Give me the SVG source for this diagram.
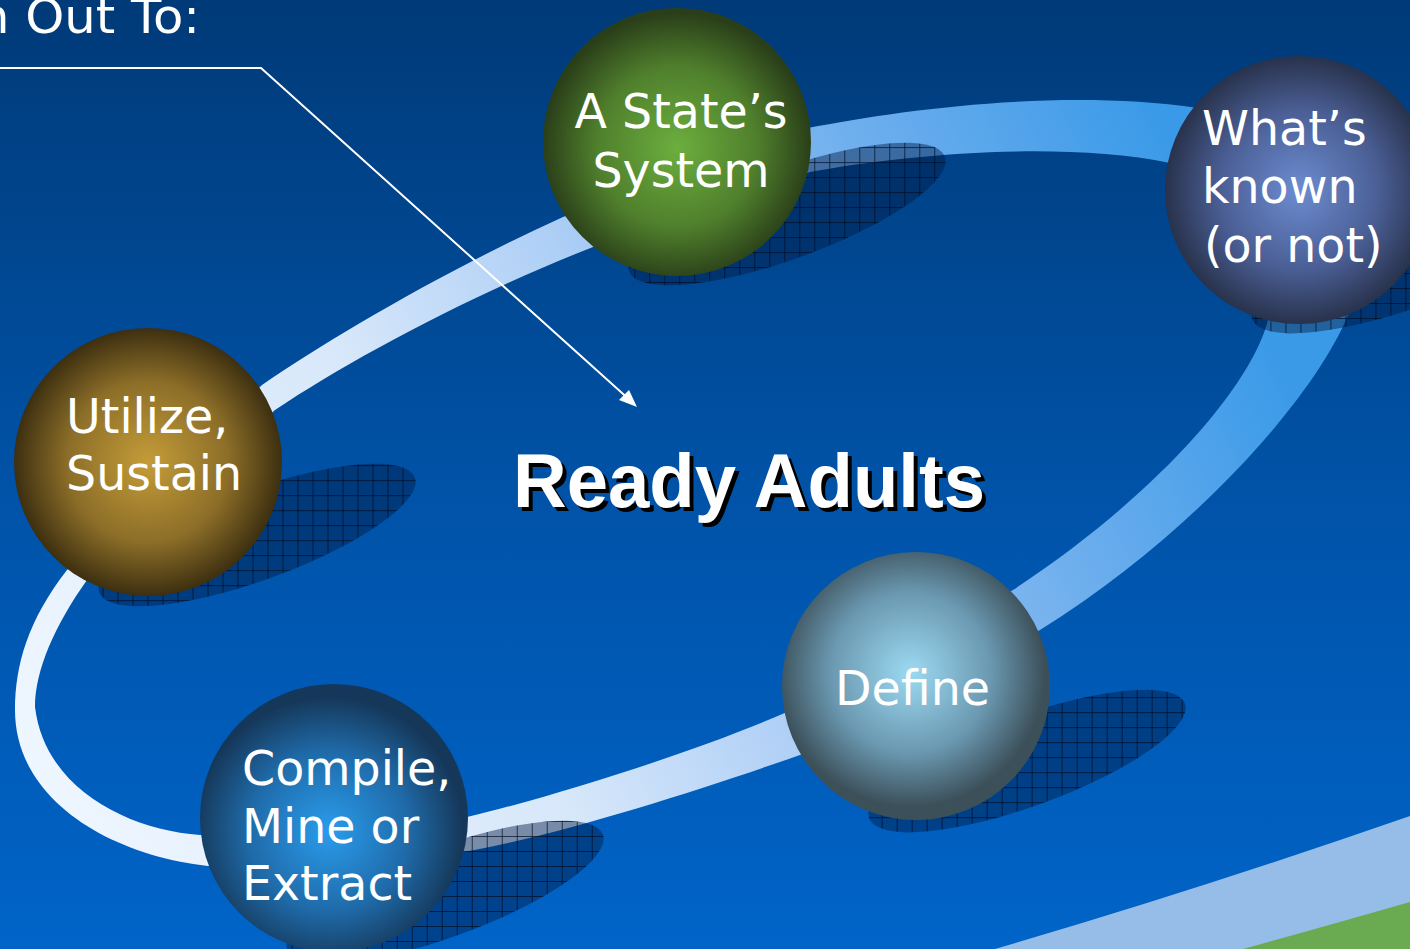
<svg xmlns="http://www.w3.org/2000/svg" width="1410" height="949" viewBox="0 0 1410 949">
<defs>
<linearGradient id="bg" x1="0" y1="0" x2="0" y2="949" gradientUnits="userSpaceOnUse">
<stop offset="0" stop-color="#003a78"/>
<stop offset="0.5" stop-color="#0052a6"/>
<stop offset="1" stop-color="#0064c8"/>
</linearGradient>
<linearGradient id="ringGrad" x1="-280" y1="140" x2="880" y2="-440" gradientUnits="userSpaceOnUse">
<stop offset="0" stop-color="#eef6ff"/>
<stop offset="0.35" stop-color="#d8e8fa"/>
<stop offset="0.53" stop-color="#b0d0f6"/>
<stop offset="0.77" stop-color="#72b0ee"/>
<stop offset="1" stop-color="#3a9ae8"/>
</linearGradient>
<radialGradient id="gGreen" cx="0.5" cy="0.52" r="0.5"><stop offset="0" stop-color="#6cae3e"/><stop offset="0.6" stop-color="#4f7f2c"/><stop offset="1" stop-color="#2a3f19"/></radialGradient>
<radialGradient id="gNavy" cx="0.5" cy="0.5" r="0.5"><stop offset="0" stop-color="#6c8cd0"/><stop offset="0.6" stop-color="#4a5e94"/><stop offset="1" stop-color="#28324c"/></radialGradient>
<radialGradient id="gGold" cx="0.5" cy="0.5" r="0.5"><stop offset="0" stop-color="#c49c38"/><stop offset="0.6" stop-color="#8c6e28"/><stop offset="1" stop-color="#3d2f10"/></radialGradient>
<radialGradient id="gBlue" cx="0.48" cy="0.55" r="0.5"><stop offset="0" stop-color="#2a9cec"/><stop offset="0.6" stop-color="#1f6aa8"/><stop offset="1" stop-color="#15385a"/></radialGradient>
<radialGradient id="gTeal" cx="0.48" cy="0.45" r="0.5"><stop offset="0" stop-color="#9cdaf2"/><stop offset="0.6" stop-color="#6a98b0"/><stop offset="1" stop-color="#3c505a"/></radialGradient>
<pattern id="hatch" width="15" height="15" patternUnits="userSpaceOnUse" patternTransform="rotate(20)">
<rect width="15" height="15" fill="#001a44" fill-opacity="0.45"/>
<path d="M0 0.5H15M0.5 0V15" stroke="#000c24" stroke-width="1" stroke-opacity="0.7"/>
</pattern>
<style>
.lbl{font-family:"DejaVu Sans","Verdana",sans-serif;font-size:47.5px;fill:#ffffff;}
.shadow{fill:url(#hatch);}
.title{font-family:"Liberation Sans",Arial,sans-serif;font-weight:bold;font-size:76px;}
</style>
</defs>
<rect width="1410" height="949" fill="url(#bg)"/>
<path d="M995,949 Q1200,889 1410,816 L1410,949 Z" fill="#96bde8"/>
<path d="M1243,949 Q1330,925 1410,902 L1410,949 Z" fill="#6aaa50"/>
<text x="-22" y="33" font-family="DejaVu Sans, sans-serif" font-size="48" fill="#ffffff" textLength="222" lengthAdjust="spacingAndGlyphs">n Out To:</text>
<g id="connectors">
<path id="ring" fill="url(#ringGrad)" fill-rule="evenodd" d="M15,710 C15,665 28,620 67,570 L262,385 C330,338 450,268 563,217 L808,128 C900,110 1060,88 1198,108 L1350,310 C1320,390 1200,530 1040,630 L800,755 C700,790 560,835 463,852 L208,866 C110,855 15,800 15,710 Z M35,707 C35,670 55,625 87,580 L275,410 C350,360 470,295 593,247 L810,172 C900,155 1060,140 1170,163 L1268,320 C1250,390 1150,500 1013,590 L787,712 C700,750 560,795 467,817 L200,835 C130,830 45,790 35,707 Z"/>
</g>
<g id="shadows">
<ellipse class="shadow" cx="787" cy="214" rx="168" ry="45" transform="rotate(-20 787 214)"/>
<ellipse class="shadow" cx="1410" cy="262" rx="168" ry="45" transform="rotate(-20 1410 262)"/>
<ellipse class="shadow" cx="257" cy="535" rx="168" ry="45" transform="rotate(-20 257 535)"/>
<ellipse class="shadow" cx="445" cy="892" rx="168" ry="45" transform="rotate(-20 445 892)"/>
<ellipse class="shadow" cx="1027" cy="761" rx="168" ry="45" transform="rotate(-20 1027 761)"/>
</g>
<g id="pointer">
<path d="M0,68 L261,68 L632,402" fill="none" stroke="#ffffff" stroke-width="2"/>
<path d="M637,407 L619,400 L629,390 Z" fill="#ffffff"/>
</g>
<g id="node-state">
<circle cx="677" cy="142" r="134" fill="url(#gGreen)"/>
<text class="lbl" text-anchor="middle"><tspan x="681" y="128">A State’s</tspan><tspan x="681" y="187">System</tspan></text>
</g>
<g id="node-known">
<circle cx="1299" cy="190" r="134" fill="url(#gNavy)"/>
<text class="lbl"><tspan x="1202" y="145">What’s</tspan><tspan x="1202" y="203">known</tspan><tspan x="1204" y="262">(or not)</tspan></text>
</g>
<g id="node-utilize">
<circle cx="148" cy="462" r="134" fill="url(#gGold)"/>
<text class="lbl"><tspan x="66" y="433">Utilize,</tspan><tspan x="66" y="490">Sustain</tspan></text>
</g>
<g id="node-compile">
<circle cx="334" cy="818" r="134" fill="url(#gBlue)"/>
<text class="lbl"><tspan x="242" y="785">Compile,</tspan><tspan x="242" y="843">Mine or</tspan><tspan x="242" y="900">Extract</tspan></text>
</g>
<g id="node-define">
<circle cx="916" cy="686" r="134" fill="url(#gTeal)"/>
<text class="lbl" x="835" y="705">Define</text>
</g>
<g id="title">
<text class="title" x="517" y="511" fill="#000000" textLength="472" lengthAdjust="spacingAndGlyphs">Ready Adults</text>
<text class="title" x="513" y="507" fill="#ffffff" textLength="472" lengthAdjust="spacingAndGlyphs">Ready Adults</text>
</g>
</svg>
